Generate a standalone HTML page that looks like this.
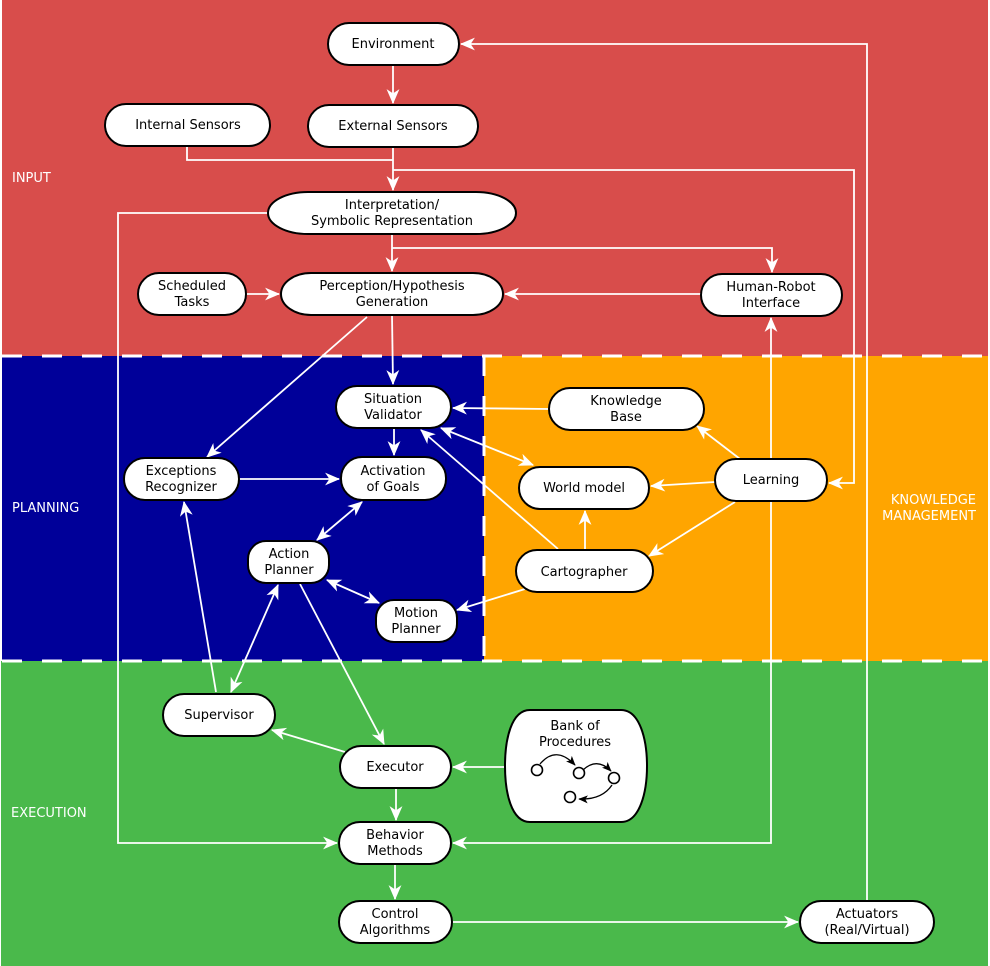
<!DOCTYPE html>
<html><head><meta charset="utf-8"><style>
html,body{margin:0;padding:0;background:#fff}
svg{display:block}
text{font-family:"DejaVu Sans","Liberation Sans",sans-serif;font-size:13px}
.n{fill:#fff;stroke:#000;stroke-width:2}
.t{fill:#000;text-anchor:middle}
.l{fill:#fff}
.e{stroke:#fff;stroke-width:1.8;fill:none}
</style></head><body>
<svg width="990" height="966" viewBox="0 0 990 966" xmlns="http://www.w3.org/2000/svg">
<defs>
<marker id="a" viewBox="0 0 14 12" refX="13" refY="6" markerWidth="15" markerHeight="13" markerUnits="userSpaceOnUse" orient="auto-start-reverse">
<path d="M0,0 L14,6 L0,12 L4,6 z" fill="#fff"/></marker>
<marker id="b" viewBox="0 0 12 10" refX="11" refY="5" markerWidth="10" markerHeight="8" markerUnits="userSpaceOnUse" orient="auto">
<path d="M0,0 L12,5 L0,10 L3,5 z" fill="#000"/></marker>
</defs>
<rect x="2" y="0" width="986" height="356" fill="#d84d4b"/>
<rect x="2" y="356" width="482" height="305" fill="#000099"/>
<rect x="484" y="356" width="504" height="305" fill="#ffa500"/>
<rect x="1" y="661" width="987" height="305" fill="#4ab94b"/>
<line x1="2" y1="356" x2="988" y2="356" stroke="#fff" stroke-width="3" stroke-dasharray="20,20"/>
<line x1="2" y1="661" x2="988" y2="661" stroke="#fff" stroke-width="3" stroke-dasharray="20,20"/>
<line x1="484" y1="356" x2="484" y2="661" stroke="#fff" stroke-width="3" stroke-dasharray="20,20"/>

<text class="l" x="12" y="182">INPUT</text>
<text class="l" x="12" y="512">PLANNING</text>
<text class="l" x="11" y="817">EXECUTION</text>
<text class="l" x="976" y="504" text-anchor="end">KNOWLEDGE</text>
<text class="l" x="976" y="520" text-anchor="end">MANAGEMENT</text>

<g class="e">
<line x1="393" y1="65" x2="393" y2="103" marker-end="url(#a)"/>
<polyline points="187,146 187,160 393,160"/>
<line x1="393" y1="147" x2="393" y2="190" marker-end="url(#a)"/>
<polyline points="867,901 867,44 461,44" marker-end="url(#a)"/>
<polyline points="393,170 854,170 854,483 829,483" marker-end="url(#a)"/>
<polyline points="268,213 118,213 118,843 337,843" marker-end="url(#a)"/>
<line x1="392" y1="234" x2="392" y2="271" marker-end="url(#a)"/>
<polyline points="392,248 772,248 772,272" marker-end="url(#a)"/>
<line x1="246" y1="294" x2="279" y2="294" marker-end="url(#a)"/>
<line x1="701" y1="294" x2="505" y2="294" marker-end="url(#a)"/>
<line x1="392" y1="315" x2="393" y2="384" marker-end="url(#a)"/>
<line x1="367" y1="317" x2="207" y2="457" marker-end="url(#a)"/>
<line x1="549" y1="409" x2="453" y2="408" marker-end="url(#a)"/>
<line x1="394" y1="428" x2="394" y2="455" marker-end="url(#a)"/>
<line x1="239" y1="479" x2="339" y2="479" marker-end="url(#a)"/>
<line x1="362" y1="502" x2="317" y2="540" marker-start="url(#a)" marker-end="url(#a)"/>
<line x1="327" y1="580" x2="379" y2="603" marker-start="url(#a)" marker-end="url(#a)"/>
<line x1="525" y1="589" x2="457" y2="610" marker-end="url(#a)"/>
<line x1="585" y1="550" x2="585" y2="511" marker-end="url(#a)"/>
<line x1="558" y1="549" x2="421" y2="430" marker-end="url(#a)"/>
<line x1="441" y1="428" x2="533" y2="465" marker-start="url(#a)" marker-end="url(#a)"/>
<line x1="715" y1="482" x2="651" y2="486" marker-end="url(#a)"/>
<line x1="740" y1="459" x2="697" y2="426" marker-end="url(#a)"/>
<line x1="735" y1="502" x2="649" y2="556" marker-end="url(#a)"/>
<line x1="771" y1="459" x2="771" y2="318" marker-end="url(#a)"/>
<polyline points="771,501 771,843 453,843" marker-end="url(#a)"/>
<line x1="300" y1="584" x2="384" y2="744" marker-end="url(#a)"/>
<line x1="216" y1="692" x2="184" y2="502" marker-end="url(#a)"/>
<line x1="231" y1="692" x2="278" y2="585" marker-start="url(#a)" marker-end="url(#a)"/>
<line x1="345" y1="752" x2="272" y2="730" marker-end="url(#a)"/>
<line x1="505" y1="767" x2="453" y2="767" marker-end="url(#a)"/>
<line x1="396" y1="788" x2="396" y2="820" marker-end="url(#a)"/>
<line x1="395" y1="864" x2="395" y2="899" marker-end="url(#a)"/>
<line x1="452" y1="922" x2="798" y2="922" marker-end="url(#a)"/>
</g>

<rect class="n" x="328" y="23" width="131" height="42" rx="21"/><text class="t" x="393" y="48">Environment</text>
<rect class="n" x="105" y="104" width="165" height="42" rx="21"/><text class="t" x="188" y="129">Internal Sensors</text>
<rect class="n" x="308" y="105" width="170" height="42" rx="21"/><text class="t" x="393" y="130">External Sensors</text>
<rect class="n" x="268" y="192" width="248" height="42" rx="40" ry="21"/><text class="t" x="392" y="209">Interpretation/</text><text class="t" x="392" y="225">Symbolic Representation</text>
<rect class="n" x="138" y="273" width="108" height="42" rx="21"/><text class="t" x="192" y="290">Scheduled</text><text class="t" x="192" y="306">Tasks</text>
<rect class="n" x="281" y="273" width="222" height="42" rx="30" ry="21"/><text class="t" x="392" y="290">Perception/Hypothesis</text><text class="t" x="392" y="306">Generation</text>
<rect class="n" x="701" y="274" width="141" height="42" rx="21"/><text class="t" x="771" y="291">Human-Robot</text><text class="t" x="771" y="307">Interface</text>
<rect class="n" x="336" y="386" width="115" height="42" rx="21"/><text class="t" x="393" y="403">Situation</text><text class="t" x="393" y="419">Validator</text>
<rect class="n" x="549" y="388" width="155" height="42" rx="21"/><text class="t" x="626" y="405">Knowledge</text><text class="t" x="626" y="421">Base</text>
<rect class="n" x="124" y="458" width="115" height="42" rx="21"/><text class="t" x="181" y="475">Exceptions</text><text class="t" x="181" y="491">Recognizer</text>
<rect class="n" x="341" y="457" width="105" height="43" rx="21"/><text class="t" x="393" y="475">Activation</text><text class="t" x="393" y="491">of Goals</text>
<rect class="n" x="519" y="467" width="130" height="42" rx="21"/><text class="t" x="584" y="492">World model</text>
<rect class="n" x="715" y="459" width="112" height="42" rx="21"/><text class="t" x="771" y="484">Learning</text>
<rect class="n" x="248" y="541" width="81" height="42" rx="18"/><text class="t" x="289" y="558">Action</text><text class="t" x="289" y="574">Planner</text>
<rect class="n" x="516" y="550" width="137" height="42" rx="21"/><text class="t" x="584" y="576">Cartographer</text>
<rect class="n" x="376" y="600" width="81" height="42" rx="18"/><text class="t" x="416" y="617">Motion</text><text class="t" x="416" y="633">Planner</text>
<rect class="n" x="163" y="694" width="112" height="42" rx="21"/><text class="t" x="219" y="719">Supervisor</text>
<rect class="n" x="340" y="746" width="111" height="42" rx="21"/><text class="t" x="395" y="771">Executor</text>
<path class="n" d="M530,710 L621,710 C640,710 647,740 647,766 C647,792 640,822 621,822 L530,822 C511,822 505,792 505,766 C505,740 511,710 530,710 Z"/>
<text class="t" x="575" y="730">Bank of</text><text class="t" x="575" y="746">Procedures</text>
<g fill="none" stroke="#000" stroke-width="1.3">
<path d="M540,764 Q556,745 575,765" marker-end="url(#b)"/>
<path d="M583,770 Q597,757 611,771" marker-end="url(#b)"/>
<path d="M612,785 Q602,800 579,799" marker-end="url(#b)"/>
</g>
<g class="n" style="stroke-width:1.6"><circle cx="537" cy="770" r="5.5"/><circle cx="579" cy="773" r="5.5"/><circle cx="614" cy="778" r="5.5"/><circle cx="570" cy="797" r="5.5"/></g>
<rect class="n" x="339" y="822" width="112" height="42" rx="21"/><text class="t" x="395" y="839">Behavior</text><text class="t" x="395" y="855">Methods</text>
<rect class="n" x="339" y="901" width="113" height="42" rx="21"/><text class="t" x="395" y="918">Control</text><text class="t" x="395" y="934">Algorithms</text>
<rect class="n" x="800" y="901" width="134" height="42" rx="21"/><text class="t" x="867" y="918">Actuators</text><text class="t" x="867" y="934">(Real/Virtual)</text>
</svg>
</body></html>
